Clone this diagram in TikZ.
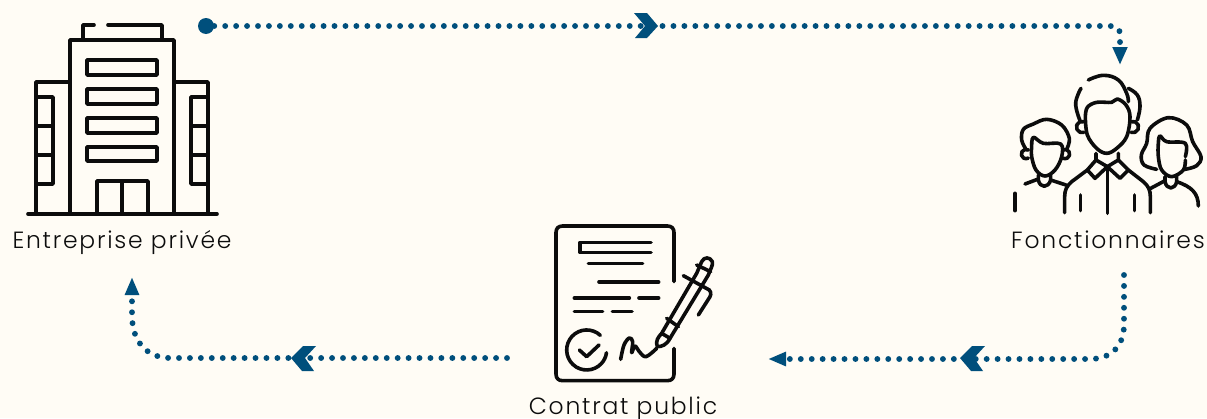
\documentclass[tikz,border=0pt]{standalone}
\usepackage{fontspec}
\setmainfont{Poppins}[UprightFont=* Light,LetterSpace=7.5]
\usetikzlibrary{arrows.meta}
\definecolor{bg}{HTML}{FFFCF5}
\definecolor{flow}{HTML}{004F7C}
\definecolor{ink}{HTML}{0C0C0C}
\tikzset{
 icon/.style={draw=ink,line width=2.7pt,line cap=round,line join=round},
 label text/.style={text=ink,font=\fontsize{17.6pt}{20pt}\selectfont,inner sep=0pt,anchor=base},
 flow line/.style={draw=flow,line width=4.4pt,line cap=round,dash pattern=on 0pt off 8.2pt},
 flow tip/.style={fill=flow,draw=none},
 zoomed/.style={x=.25pt,y=-.25pt}
}
\begin{document}
\begin{tikzpicture}[x=.75pt,y=-.75pt]
\path[fill=bg] (0,0) rectangle (1207,418);
\useasboundingbox (0,0) rectangle (1207,418);
% building
\draw[icon] (28,214) -- (217,214);
\draw[icon] (70,214) -- (70,40) -- (174,40) -- (174,214);
\draw[icon] (83,40) -- (83,25) -- (94,25);
\draw[icon] (108,25) -- (162,25) -- (162,40);
\draw[icon] (36,214) -- (36,82) -- (70,82);
\draw[icon] (174,82) -- (208,82) -- (208,214);
\draw[icon] (36,97) -- (53,97) -- (53,184) -- (36,184);
\draw[icon] (36,126) -- (53,126) (36,155) -- (53,155);
\draw[icon] (208,97) -- (191,97) -- (191,184) -- (208,184);
\draw[icon] (191,126) -- (208,126) (191,155) -- (208,155);
\draw[icon] (87,60) rectangle (157,75);
\draw[icon] (87,89) rectangle (157,104);
\draw[icon] (87,118) rectangle (157,133);
\draw[icon] (87,147) rectangle (157,161);
\draw[icon] (97,214) -- (97,181) -- (148,181) -- (148,214);
\draw[icon] (122,181) -- (122,214);
% people
\begin{scope}[shift={(1000,0)},zoomed]
 % central man
 \draw[icon] plot[smooth,tension=.7] coordinates {(265,240) (310,226) (355,240) (380,280) (385,305)};
 \draw[icon] plot[smooth,tension=.7] coordinates {(385,265) (412,285) (420,320) (412,360)};
 \draw[icon] plot[smooth,tension=.7] coordinates {(243,265) (227,310) (240,362)};
 \draw[icon] plot[smooth,tension=.6] coordinates {(256,350) (262,322) (290,307) (335,307) (352,297) (378,315) (390,350) (380,410) (350,445) (320,460) (290,445) (262,405) (256,350)};
 \draw[icon] (252,365) arc[start angle=-70,end angle=-290,radius=17];
 \draw[icon] (393,365) arc[start angle=-110,end angle=110,radius=17];
 \draw[icon] (288,460) -- (288,480) -- (322,500) -- (355,480) -- (355,460);
 \draw[icon] (288,480) -- (262,510) -- (285,535) -- (322,500) -- (360,535) -- (385,510) -- (355,480);
 \draw[icon] (322,500) -- (322,640);
 \draw[icon] (262,510) -- (215,545) .. controls (200,558) and (194,570) .. (194,590) -- (194,638);
 \draw[icon] (385,510) -- (430,545) .. controls (445,558) and (451,570) .. (451,590) -- (451,638);
 \draw[icon] (242,585) -- (242,632);
 \draw[icon] (404,585) -- (404,632);
 % left person
 \draw[icon] plot[smooth,tension=.6] coordinates {(78,448) (65,420) (70,388) (100,372) (140,358) (185,375) (208,415) (200,448)};
 \draw[icon] plot[smooth,tension=.6] coordinates {(95,440) (100,412) (130,430) (182,432) (185,470) (165,510) (135,528) (108,510) (95,470) (95,440)};
 \draw[icon] (85,450) arc[start angle=-60,end angle=-300,radius=14];
 \draw[icon] (188,450) arc[start angle=-120,end angle=120,radius=14];
 \draw[icon] (115,525) -- (115,540) .. controls (120,565) and (145,565) .. (152,540) -- (152,525);
 \draw[icon] (75,552) -- (115,537);
 \draw[icon] (152,540) -- (198,555);
 \draw[icon] (45,580) -- (45,632);
 % right person
 \draw[icon] plot[smooth,tension=.6] coordinates {(470,508) (432,495) (424,465) (440,430) (450,385) (505,353) (560,375) (578,425) (603,470) (590,497) (555,508)};
 \draw[icon] plot[smooth,tension=.6] coordinates {(556,480) (550,510) (515,530) (485,510) (475,470) (475,430) (480,408) (500,425) (556,430) (556,470)};
 \draw[icon] (495,530) -- (495,545) .. controls (500,570) and (525,570) .. (530,545) -- (530,530);
 \draw[icon] (452,565) -- (495,542);
 \draw[icon] (530,545) .. controls (575,560) and (595,580) .. (595,618);
\end{scope}
% contract
\begin{scope}[shift={(520,210)},zoomed]
 \draw[icon] (462,215) -- (462,68) .. controls (462,55) and (455,48) .. (442,48) -- (128,48) .. controls (115,48) and (108,55) .. (108,68) -- (108,492) .. controls (108,505) and (115,512) .. (128,512) -- (442,512) .. controls (455,512) and (462,505) .. (462,492) -- (462,415);
 \draw[icon] (393,97) -- (180,97) -- (180,127) -- (393,127);
 \draw[icon] (205,160) -- (368,160);
 \draw[icon] (237,216) -- (416,216);
 \draw[icon] (163,264) -- (328,264);
 \draw[icon] (357,264) -- (416,264);
 \draw[icon] (163,304) -- (248,304);
 \draw[icon] (277,304) -- (336,304);
 \draw[icon] (241,376) arc[start angle=-47,end angle=-352,radius=60];
 \draw[icon] (178,420) -- (200,440) -- (237,405);
 \draw[icon] plot[smooth,tension=.6] coordinates {(302,448) (312,405) (328,384) (338,395) (335,428) (345,408) (358,425) (378,440) (410,415)};
 % pen
 \draw[icon] (412,410) .. controls (405,395) and (415,380) .. (425,370) -- (530,190) -- (545,155) .. controls (552,140) and (570,140) .. (577,155) .. controls (580,165) and (570,180) .. (565,195) -- (450,385) .. controls (440,405) and (425,410) .. (412,410);
 \draw[icon] (440,325) -- (475,350);
 \draw[icon] (425,370) -- (450,385);
 \draw[icon] (490,197) -- (568,240) .. controls (576,250) and (572,258) .. (565,268) -- (535,315);
 \draw[icon] (530,165) -- (572,185);
\end{scope}
% labels
\node[label text] (lblA) at (122,248) {Entreprise privée};
\node[label text] (lblB) at (1108,248) {Fonctionnaires};
\node[label text] (lblC) at (623,414) {Contrat public};
% connector ends
\node[circle,fill=flow,inner sep=0pt,minimum size=12pt] (origin) at (206,26) {};
\coordinate (corner1) at (1120,26);
\coordinate (peopleIn) at (1120,65);
\coordinate (peopleOut) at (1124,275);
\coordinate (corner2) at (1124,359);
\coordinate (contractIn) at (768,359);
\coordinate (contractOut) at (507,358);
\coordinate (corner3) at (132,358);
\coordinate (buildingIn) at (132,277);
% connectors
\draw[flow line,-{Triangle[length=13.5pt,width=10.5pt,fill=flow]}] (origin.east) -- (1106,26) .. controls (1116,26) and (corner1) .. (1120,36) -- (peopleIn);
\draw[flow line,-{Triangle[length=13.5pt,width=10pt,fill=flow]}] (peopleOut) -- (1124,325) .. controls (1124,345) and (1112,359) .. (1090,359) -- (contractIn);
\draw[flow line,-{Triangle[length=13.5pt,width=10pt,fill=flow]}] (contractOut) -- (170,358) .. controls (150,358) and (132,345) .. (132,315) -- (buildingIn);
% chevrons
\fill[flow tip] (634,13) -- (647,13) -- (658,26) -- (647,38) -- (635,38) -- (645,26) -- cycle;
\fill[flow tip] (291,358) -- (303,346) -- (316,346) -- (305,358) -- (314,371) -- (302,371) -- cycle;
\fill[flow tip] (960,358) -- (972,346) -- (985,346) -- (974,358) -- (983,371) -- (971,371) -- cycle;
\end{tikzpicture}
\end{document}
